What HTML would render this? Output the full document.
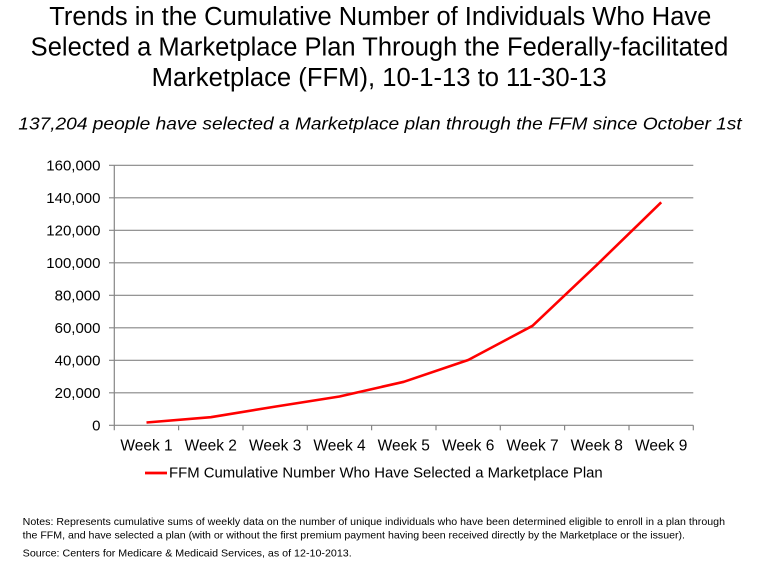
<!DOCTYPE html>
<html>
<head>
<meta charset="utf-8">
<style>
html,body{margin:0;padding:0;background:#fff;}
svg{display:block;}
text{font-family:"Liberation Sans",Arial,sans-serif;fill:#000;}
</style>
</head>
<body>
<svg width="757" height="571" viewBox="0 0 757 571" xmlns="http://www.w3.org/2000/svg">
<rect width="757" height="571" fill="#fff"/>
<!-- Title -->
<text x="49.3" y="25" font-size="25.5" textLength="662" lengthAdjust="spacingAndGlyphs">Trends in the Cumulative Number of Individuals Who Have</text>
<text x="30.7" y="55.5" font-size="25.5" textLength="697.6" lengthAdjust="spacingAndGlyphs">Selected a Marketplace Plan Through the Federally-facilitated</text>
<text x="151.7" y="86" font-size="25.5" textLength="455" lengthAdjust="spacingAndGlyphs">Marketplace (FFM), 10-1-13 to 11-30-13</text>
<text x="18.3" y="129.3" font-size="17.5" font-style="italic" textLength="723.4" lengthAdjust="spacingAndGlyphs">137,204 people have selected a Marketplace plan through the FFM since October 1st</text>

<!-- gridlines -->
<g stroke="#868686" stroke-width="1.2" fill="none">
<line x1="109" y1="165.3" x2="693.3" y2="165.3"/>
<line x1="109" y1="197.8" x2="693.3" y2="197.8"/>
<line x1="109" y1="230.3" x2="693.3" y2="230.3"/>
<line x1="109" y1="262.8" x2="693.3" y2="262.8"/>
<line x1="109" y1="295.3" x2="693.3" y2="295.3"/>
<line x1="109" y1="327.8" x2="693.3" y2="327.8"/>
<line x1="109" y1="360.3" x2="693.3" y2="360.3"/>
<line x1="109" y1="392.8" x2="693.3" y2="392.8"/>
<line x1="109" y1="425.3" x2="693.3" y2="425.3"/>
<line x1="114.3" y1="165.3" x2="114.3" y2="430.3"/>
<line x1="178.6" y1="425.3" x2="178.6" y2="430.3"/>
<line x1="243" y1="425.3" x2="243" y2="430.3"/>
<line x1="307.3" y1="425.3" x2="307.3" y2="430.3"/>
<line x1="371.6" y1="425.3" x2="371.6" y2="430.3"/>
<line x1="436" y1="425.3" x2="436" y2="430.3"/>
<line x1="500.3" y1="425.3" x2="500.3" y2="430.3"/>
<line x1="564.6" y1="425.3" x2="564.6" y2="430.3"/>
<line x1="629" y1="425.3" x2="629" y2="430.3"/>
<line x1="693.3" y1="425.3" x2="693.3" y2="430.3"/>
</g>

<!-- y labels -->
<g font-size="15" text-anchor="end">
<text x="100.5" y="170.7">160,000</text>
<text x="100.5" y="203.2">140,000</text>
<text x="100.5" y="235.7">120,000</text>
<text x="100.5" y="268.2">100,000</text>
<text x="100.5" y="300.7">80,000</text>
<text x="100.5" y="333.2">60,000</text>
<text x="100.5" y="365.7">40,000</text>
<text x="100.5" y="398.2">20,000</text>
<text x="100.5" y="430.7">0</text>
</g>

<!-- x labels -->
<g font-size="15.5" text-anchor="middle">
<text x="146.5" y="450.7">Week 1</text>
<text x="210.8" y="450.7">Week 2</text>
<text x="275.2" y="450.7">Week 3</text>
<text x="339.5" y="450.7">Week 4</text>
<text x="403.8" y="450.7">Week 5</text>
<text x="468.2" y="450.7">Week 6</text>
<text x="532.5" y="450.7">Week 7</text>
<text x="596.8" y="450.7">Week 8</text>
<text x="661.2" y="450.7">Week 9</text>
</g>

<!-- series -->
<polyline fill="none" stroke="#ff0000" stroke-width="2.6" stroke-linejoin="round"
 points="146.5,422.5 210.8,417.2 275.2,406.6 339.5,396.5 403.8,381.8 468.2,360.0 532.5,325.8 596.8,264.9 661.2,202.3"/>

<!-- legend -->
<line x1="145" y1="473" x2="167" y2="473" stroke="#ff0000" stroke-width="2.8"/>
<text x="169" y="477.5" font-size="14.5" textLength="433.7" lengthAdjust="spacingAndGlyphs">FFM Cumulative Number Who Have Selected a Marketplace Plan</text>

<!-- notes -->
<text x="22.7" y="525" font-size="10.5" textLength="702.3" lengthAdjust="spacingAndGlyphs">Notes:  Represents cumulative sums of weekly data on the number of unique individuals who have been determined eligible to enroll in a plan through</text>
<text x="22.7" y="538.5" font-size="10.5" textLength="662.3" lengthAdjust="spacingAndGlyphs">the FFM, and have selected a plan (with or without the first premium payment having been received directly by the Marketplace or the issuer).</text>
<text x="22.7" y="556.7" font-size="10.5" textLength="329" lengthAdjust="spacingAndGlyphs">Source:  Centers for Medicare &amp; Medicaid Services, as of 12-10-2013.</text>
</svg>
</body>
</html>
